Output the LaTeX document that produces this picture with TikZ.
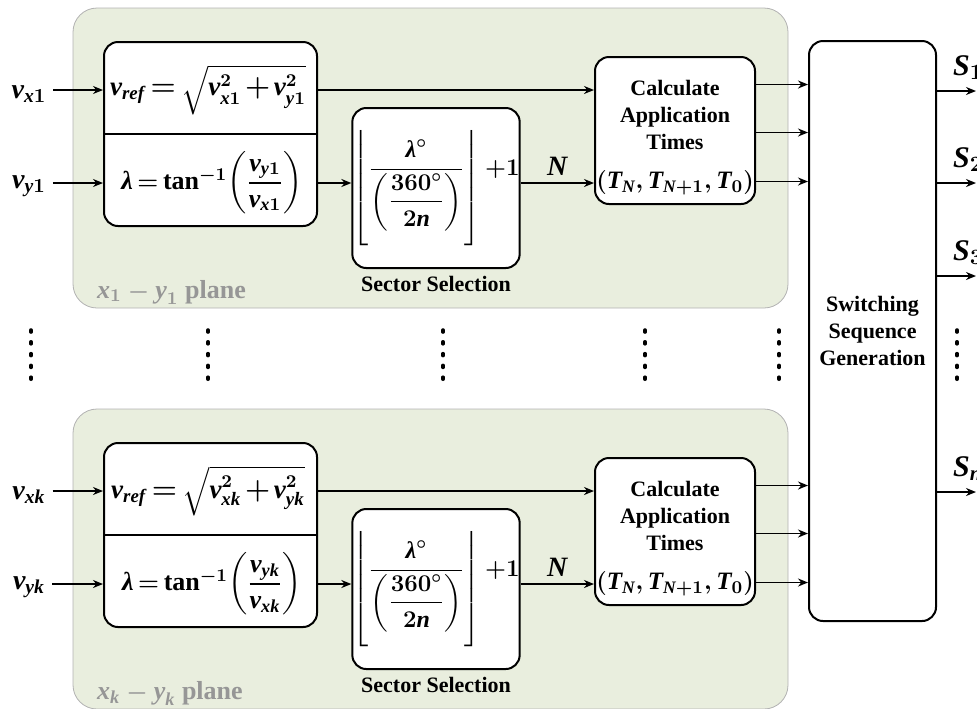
\documentclass[tikz,border=0pt]{standalone}
\usepackage{amsmath,amssymb}
\usepackage{fontspec}
\setmainfont{Liberation Serif}
\usepackage{tikz}
\usetikzlibrary{arrows.meta,positioning}
\definecolor{planegreen}{RGB}{233,238,222}
\definecolor{planegray}{RGB}{150,150,150}
\newcommand{\mv}[1]{\text{\bfseries\itshape #1}}
\newcommand{\mfont}[1][13]{\fontsize{#1}{16}\selectfont\bfseries\boldmath\thickmuskip=3mu\medmuskip=2mu}
\newcommand{\flo}[1]{\mathopen{\lower9pt\hbox{\nulldelimiterspace=0pt$\left\lfloor\vrule height26pt depth26pt width0pt\right.$}}#1\mathclose{\lower9pt\hbox{\nulldelimiterspace=0pt$\left.\vrule height26pt depth26pt width0pt\right\rfloor$}}}

\begin{document}
\begin{tikzpicture}[x=0.5pt,y=-0.5pt,
  font=\fontsize{11}{13.5}\selectfont\bfseries\boldmath,
  plane/.style={draw=gray!60,fill=planegreen,rounded corners=12pt,line width=0.4pt},
  blk/.style={draw,line width=1pt,fill=white,rounded corners=7pt,align=center,inner sep=0pt},
  arr/.style={-{Stealth[length=5pt,width=4pt]},line width=0.8pt},
  dots/.style={line width=1.8pt,line cap=round,dash pattern=on 1pt off 4.9pt}]
  \useasboundingbox (0,0) rectangle (977,708);
  \node[blk,minimum width=63.5pt,minimum height=290pt] (sw) at (872.5,331) {Switching\\Sequence\\Generation};
  \foreach \dy/\r/\sb in {0/1/1,401/k/{\mv{k}}}{
    \draw[plane] (73,8+\dy) rectangle (788,308+\dy);
    \node[anchor=base west,text=planegray,font={\mfont\medmuskip=4mu}] (pll\r) at (90,298+\dy) {$\mv{x}_{\sb}-\mv{y}_{\sb}$\ plane};
    % formula block
    \node[blk,minimum width=106.5pt,minimum height=92pt] (form\r) at (210.5,134+\dy) {};
    \draw[line width=1pt] (form\r.west) -- (form\r.east);
    \node[font={\mfont[13.5]}] (vref\r) at (208,90+\dy) {$\mv{v}_{\mv{ref}} = \sqrt{\mv{v}^2_{\mv{x}\sb}+\mv{v}^2_{\mv{y}\sb}}$};
    \node[font=\mfont] (lam\r) at (212,183+\dy) {$\mv{λ} = \text{tan}^{-1}\!\left(\dfrac{\mv{v}_{\mv{y}\sb}}{\mv{v}_{\mv{x}\sb}}\right)$};
    % sector selection
    \node[blk,minimum width=83pt,minimum height=80pt,font={\mfont[12]}] (sec\r) at (436,188+\dy) {$\flo{\dfrac{\mv{λ}^{\circ}}{\left(\dfrac{360^{\circ}}{2\mv{n}}\right)}}\,{+}1$};
    \node[below=0pt of sec\r] (secl\r) {Sector Selection};
    \node[blk,minimum width=80pt,minimum height=73.5pt] (calc\r) at (675,130.5+\dy) {\rule{0pt}{15pt}Calculate\\Application\\Times\\[6pt]{\mfont[12.5]$(\mv{T}_{\mv{N}},\mv{T}_{\mv{N}+1},\mv{T}_0)$}};
    % inputs
    \node[font={\mfont[14]}] (vx\r) at (29,94+\dy) {$\mv{v}_{\mv{x}\sb}$};
    \node[font={\mfont[14]}] (vy\r) at (29,186+\dy) {$\mv{v}_{\mv{y}\sb}$};
    \draw[arr] (vx\r.east |- vref\r) -- (vref\r -| form\r.west);
    \draw[arr] (vy\r.east |- lam\r) -- (lam\r -| form\r.west);
    \draw[arr] (vref\r -| form\r.east) -- (vref\r -| calc\r.west);
    \draw[arr] (lam\r -| form\r.east) -- (lam\r -| sec\r.west);
    \draw[arr] (lam\r -| sec\r.east) -- node[above,font={\mfont[14]}] {$\mv{N}$} (lam\r -| calc\r.west);
    \foreach \o in {23,-1,-25.5}
      \draw[arr] ([yshift=\o pt]calc\r.east) -- ([yshift=\o pt]calc\r.east -| sw.west);
  }
  % outputs
  \foreach \y/\n [count=\i] in {91/{\mv{S}_1},183/{\mv{S}_2},276/{\mv{S}_3},492/{\mv{S}_{\mv{n}}}}{
    \coordinate (o\i) at (976,\y);
    \draw[arr] (o\i -| sw.east) -- (o\i);
    \node[anchor=base west,font={\mfont[15]}] (s\i) at (946,\y-16) {$\n$};
  }
  \foreach \x in {31,208,443,645,779,957}
    \draw[dots] (\x,330) -- (\x,380);
\end{tikzpicture}
\end{document}
